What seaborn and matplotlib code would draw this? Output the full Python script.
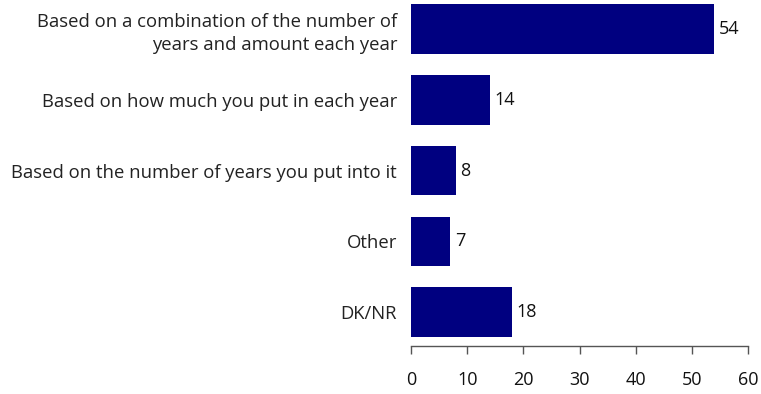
import matplotlib
matplotlib.use("Agg")
import matplotlib.pyplot as plt
import seaborn as sns
import pandas as pd

categories = [
    "Based on a combination of the number of\nyears and amount each year",
    "Based on how much you put in each year",
    "Based on the number of years you put into it",
    "Other",
    "DK/NR",
]
values = [54, 14, 8, 7, 18]
x_ticks = [0, 10, 20, 30, 40, 50, 60]

sns.set_theme(style="white")
plt.rcParams["font.family"] = ["Open Sans", "DejaVu Sans"]

df = pd.DataFrame({"category": categories, "value": values})

fig = plt.figure(figsize=(7.61, 3.94), dpi=100)
ax = fig.add_axes([411 / 761, 1 - 346 / 394, (748 - 411) / 761, 346 / 394])

sns.barplot(data=df, y="category", x="value", orient="h", color="#000080",
            saturation=1, width=0.7, linewidth=0, ax=ax)

for i, v in enumerate(values):
    ax.text(v + 0.8, i, f"{v}", va="center", ha="left", fontsize=13, color="#111111")

ax.set_xlim(0, 60)
ax.set_ylim(4.48, -0.41)
ax.set_xticks(x_ticks)
ax.set_xticklabels([str(t) for t in x_ticks], fontsize=13, color="#111111")
ax.tick_params(axis="x", bottom=True, length=6, width=1, color="#555555", pad=12)
ax.tick_params(axis="y", left=False, length=0, labelsize=13.3, labelcolor="#222222", pad=10)
for lbl in ax.get_yticklabels():
    lbl.set_linespacing(1.35)
ax.set_xlabel("")
ax.set_ylabel("")
for s in ["top", "right", "left"]:
    ax.spines[s].set_visible(False)
ax.spines["bottom"].set_color("#555555")
ax.spines["bottom"].set_linewidth(1)

fig.savefig("out.png", dpi=100)
